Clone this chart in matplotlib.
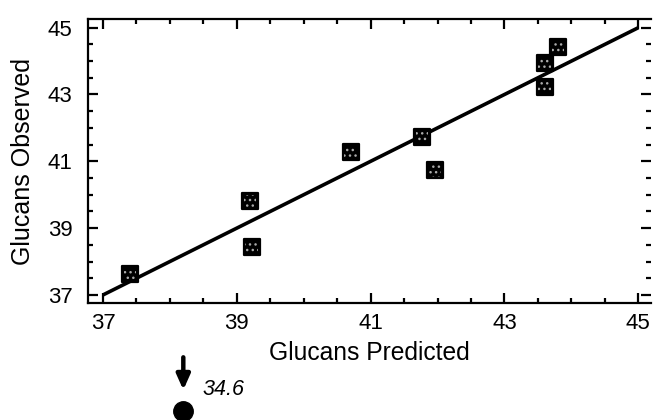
import matplotlib
matplotlib.use("Agg")
import matplotlib.pyplot as plt
from matplotlib.ticker import MultipleLocator

plt.rcParams['font.family'] = ['Liberation Sans', 'DejaVu Sans']

# Data
predicted = [37.40, 39.20, 39.22, 40.70, 41.77, 41.96, 43.60, 43.60, 43.80]
observed = [37.63, 39.80, 38.42, 41.28, 41.74, 40.73, 43.93, 43.23, 44.42]
fit_line = [37, 45]
outlier_pred = 38.2
outlier_label = "34.6"
ticks = [37, 39, 41, 43, 45]

fig = plt.figure(figsize=(6.53, 4.20), dpi=100)
ax = fig.add_axes([0.1348, 0.2779, 0.8622, 0.6769])

ax.plot(fit_line, fit_line, color='black', lw=2.6, solid_capstyle='butt', zorder=2)

ax.scatter(predicted, observed, marker='s', s=135, facecolor='black',
           edgecolor='black', linewidths=1.6, zorder=3)
ax.scatter(predicted, observed, marker='s', s=80, facecolor='none',
           edgecolor='#aaaaaa', hatch='...', linewidths=0, zorder=4)

ax.set_xlim(36.776, 45.19)
ax.set_ylim(36.75, 45.26)
ax.set_xticks(ticks)
ax.set_yticks(ticks)
ax.xaxis.set_minor_locator(MultipleLocator(0.5))
ax.yaxis.set_minor_locator(MultipleLocator(0.5))
ax.tick_params(which='both', direction='in', top=True, right=True,
               width=1.6, labelsize=16, colors='black')
ax.tick_params(axis='x', which='both', pad=7)
ax.tick_params(axis='y', which='both', pad=11)
ax.tick_params(which='major', length=7)
ax.tick_params(which='minor', length=3.5)
for side in ['left', 'bottom', 'top']:
    ax.spines[side].set_linewidth(1.6)
ax.spines['right'].set_visible(False)

ax.set_xlabel('Glucans Predicted', fontsize=17.7, labelpad=5)
ax.set_ylabel('Glucans Observed', fontsize=18, labelpad=9)

# Outlier annotation below the axes
trans = ax.get_xaxis_transform()
ax.annotate('', xy=(outlier_pred, -0.305), xytext=(outlier_pred, -0.19),
            xycoords=trans, textcoords=trans,
            arrowprops=dict(arrowstyle='-|>,head_length=0.9,head_width=0.4',
                            color='black', lw=3.2, shrinkA=0, shrinkB=0),
            annotation_clip=False)
ax.plot([outlier_pred], [-0.38], marker='o', ms=14, color='black',
        transform=trans, clip_on=False)
ax.text(outlier_pred + 0.28, -0.305, outlier_label, transform=trans,
        fontsize=15.5, style='italic', va='center', ha='left')

fig.savefig('out.png', dpi=100)
